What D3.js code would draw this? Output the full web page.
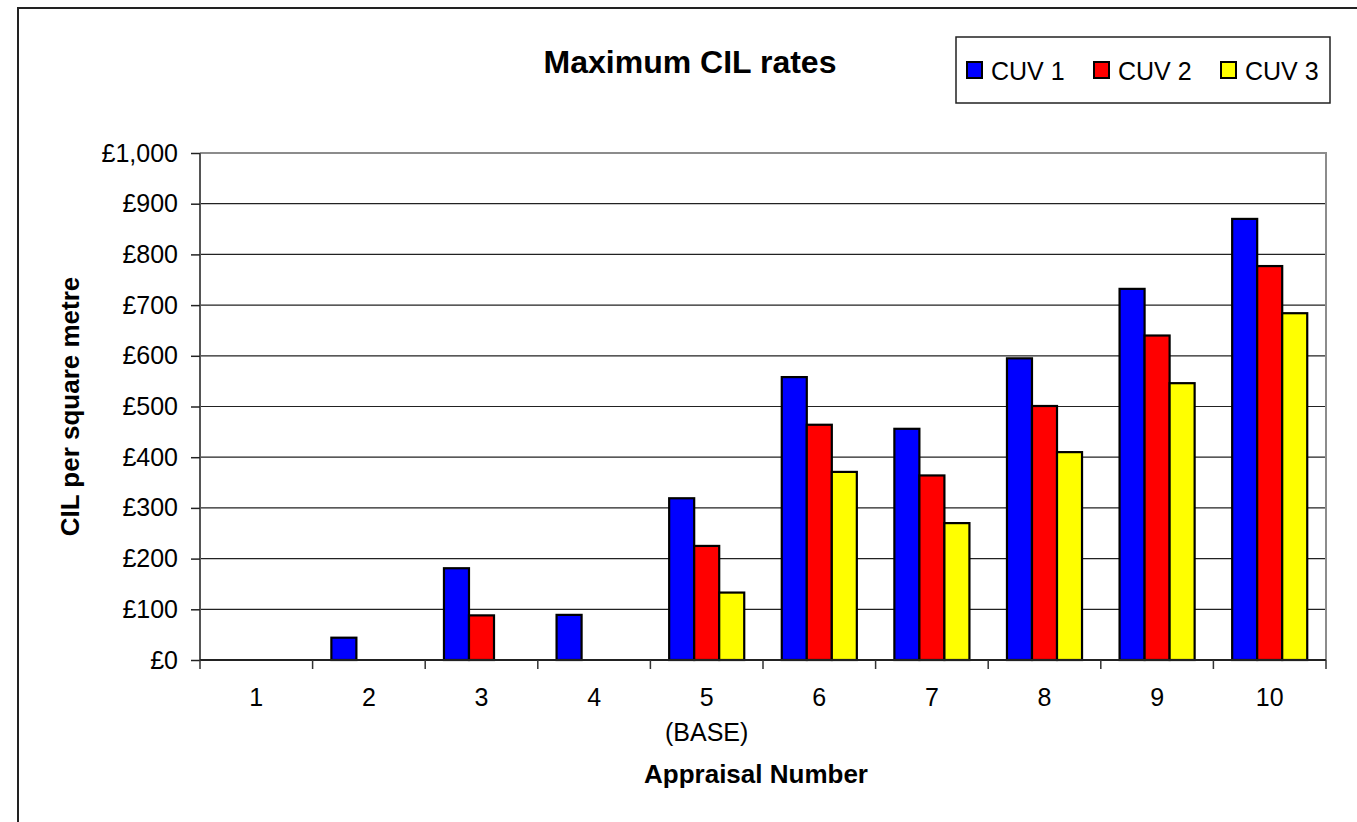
<!DOCTYPE html>
<html>
<head>
<meta charset="utf-8">
<script src="https://cdn.jsdelivr.net/npm/d3@7"></script>
<style>
  body { margin: 0; background: #fff; }
  svg { display: block; font-family: "Liberation Sans", Arial, sans-serif; }
</style>
</head>
<body>
<div id="chart"></div>
<script>
// data
const appraisals = ["1", "2", "3", "4", "5", "6", "7", "8", "9", "10"];
const subLabels = ["", "", "", "", "(BASE)", "", "", "", "", ""];
const seriesNames = ["CUV 1", "CUV 2", "CUV 3"];
const cuv1 = [0, 44, 181, 89, 319, 558, 456, 595, 732, 870];
const cuv2 = [0, 0, 88, 0, 225, 464, 364, 501, 640, 777];
const cuv3 = [0, 0, 0, 0, 133, 371, 270, 410, 546, 684];
const yTicks = [0, 100, 200, 300, 400, 500, 600, 700, 800, 900, 1000];
const colours = ["#0000ff", "#ff0000", "#ffff00"];

const W = 1357, H = 822;
const svg = d3.select("#chart").append("svg")
    .attr("width", W)
    .attr("height", H);

// outer chart border (right / bottom run off the page)
svg.append("rect")
    .attr("x", 18).attr("y", 8)
    .attr("width", W).attr("height", H)
    .attr("fill", "#fff")
    .attr("stroke", "#222")
    .attr("stroke-width", 2);

const plot = {left: 200, top: 153, right: 1326, bottom: 660};

const x = d3.scaleBand()
    .domain(appraisals)
    .range([plot.left, plot.right])
    .padding(0);

// excel style: gap width 150% -> bar = band / 4.5
const barW = x.bandwidth() / 4.5;
const xSub = d3.scaleBand()
    .domain(seriesNames)
    .range([barW * 0.75, barW * 3.75])
    .padding(0);

const y = d3.scaleLinear()
    .domain([0, 1000])
    .range([plot.bottom, plot.top]);

// gridlines
svg.append("g")
    .selectAll("line")
    .data(yTicks.filter(d => d > 0 && d < 1000))
    .join("line")
    .attr("x1", plot.left).attr("x2", plot.right)
    .attr("y1", d => y(d)).attr("y2", d => y(d))
    .attr("stroke", "#222")
    .attr("stroke-width", 1.2);

// plot area frame (top/right grey)
svg.append("path")
    .attr("d", `M${plot.left},${plot.top}H${plot.right}V${plot.bottom}`)
    .attr("fill", "none")
    .attr("stroke", "#8c8c8c")
    .attr("stroke-width", 2);

// bars
const series = [cuv1, cuv2, cuv3];
series.forEach((vals, si) => {
    svg.append("g")
        .selectAll("rect")
        .data(vals.map((v, i) => ({cat: appraisals[i], v: v})))
        .join("rect")
        .attr("x", d => x(d.cat) + xSub(seriesNames[si]))
        .attr("y", d => y(d.v))
        .attr("width", xSub.bandwidth())
        .attr("height", d => y(0) - y(d.v))
        .attr("fill", colours[si])
        .attr("stroke", "#000")
        .attr("stroke-width", 2.2);
});

// y axis
const yAxis = svg.append("g")
    .attr("transform", `translate(${plot.left},0)`)
    .call(d3.axisLeft(y)
        .tickValues(yTicks)
        .tickSize(9)
        .tickPadding(13)
        .tickFormat(d => "£" + d3.format(",")(d)));
yAxis.select(".domain")
    .attr("stroke", "#555")
    .attr("stroke-width", 2)
    .attr("d", `M0,${plot.top}V${plot.bottom}`);
yAxis.selectAll(".tick line").attr("stroke", "#222").attr("stroke-width", 1.5);
yAxis.selectAll(".tick text")
    .attr("font-size", "25px")
    .attr("fill", "#000")
    .attr("font-family", "Liberation Sans, Arial, sans-serif");

// x axis: ticks at category boundaries
const xAxisG = svg.append("g");
xAxisG.append("line")
    .attr("x1", plot.left).attr("x2", plot.right)
    .attr("y1", plot.bottom).attr("y2", plot.bottom)
    .attr("stroke", "#222").attr("stroke-width", 2);
const bounds = appraisals.map(a => x(a)).concat([x(appraisals[appraisals.length - 1]) + x.bandwidth()]);
xAxisG.selectAll("line.tick")
    .data(bounds)
    .join("line")
    .attr("class", "tick")
    .attr("x1", d => d).attr("x2", d => d)
    .attr("y1", plot.bottom).attr("y2", plot.bottom + 9)
    .attr("stroke", "#333").attr("stroke-width", 1.5);

const labels = svg.append("g")
    .attr("font-size", "25px")
    .attr("text-anchor", "middle")
    .attr("fill", "#000");
labels.selectAll("text.cat")
    .data(appraisals)
    .join("text")
    .attr("class", "cat")
    .attr("x", d => x(d) + x.bandwidth() / 2)
    .attr("y", 706)
    .text(d => d);
labels.selectAll("text.sub")
    .data(subLabels)
    .join("text")
    .attr("class", "sub")
    .attr("x", (d, i) => x(appraisals[i]) + x.bandwidth() / 2)
    .attr("y", 741)
    .text(d => d);

// titles
svg.append("text")
    .attr("x", 690).attr("y", 73)
    .attr("text-anchor", "middle")
    .attr("font-size", "32px")
    .attr("font-weight", "bold")
    .text("Maximum CIL rates");

svg.append("text")
    .attr("x", (plot.left + plot.right) / 2 - 7).attr("y", 783)
    .attr("text-anchor", "middle")
    .attr("font-size", "26px")
    .attr("font-weight", "bold")
    .text("Appraisal Number");

svg.append("text")
    .attr("transform", `translate(79,${(plot.top + plot.bottom) / 2}) rotate(-90)`)
    .attr("text-anchor", "middle")
    .attr("font-size", "26px")
    .attr("font-weight", "bold")
    .text("CIL per square metre");

// legend
const legend = svg.append("g");
legend.append("rect")
    .attr("x", 956).attr("y", 37)
    .attr("width", 374).attr("height", 66)
    .attr("fill", "#fff")
    .attr("stroke", "#222")
    .attr("stroke-width", 1.5);
const legX = [967, 1094, 1221];
const item = legend.selectAll("g.item")
    .data(seriesNames)
    .join("g")
    .attr("class", "item")
    .attr("transform", (d, i) => `translate(${legX[i]},62)`);
item.append("rect")
    .attr("width", 15).attr("height", 16)
    .attr("fill", (d, i) => colours[i])
    .attr("stroke", "#000")
    .attr("stroke-width", 2);
item.append("text")
    .attr("x", 24).attr("y", 17.5)
    .attr("font-size", "25px")
    .text(d => d);
</script>
</body>
</html>
